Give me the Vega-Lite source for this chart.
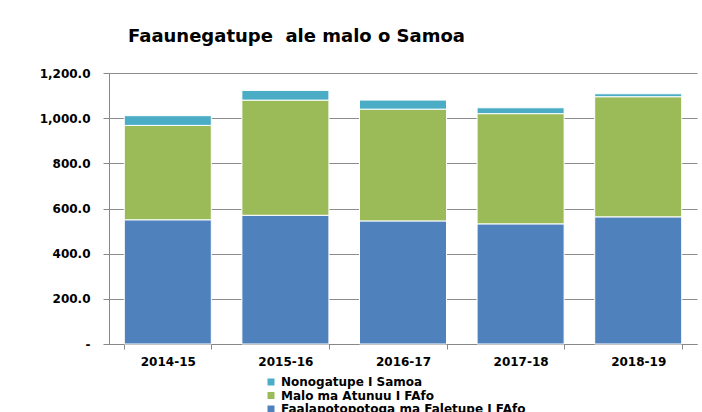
{
  "$schema": "https://vega.github.io/schema/vega-lite/v6.json",
  "width": 588,
  "height": 271,
  "autosize": {"type": "none"},
  "padding": {"left": 109, "top": 73, "right": 5, "bottom": 68},
  "background": "white",
  "title": {
    "text": "Faaunegatupe\u00a0 ale malo o Samoa",
    "anchor": "start",
    "frame": "group",
    "dx": 19,
    "offset": 7,
    "baseline": "alphabetic",
    "font": "DejaVu Sans",
    "fontSize": 18,
    "fontWeight": "bold",
    "color": "#000000"
  },
  "data": {
    "values": [
      {"year": "2014-15", "series": "Faalapotopotoga ma Faletupe I FAfo", "rank": 1, "value": 550},
      {"year": "2014-15", "series": "Malo ma Atunuu I FAfo", "rank": 2, "value": 418},
      {"year": "2014-15", "series": "Nonogatupe I Samoa", "rank": 3, "value": 43},
      {"year": "2015-16", "series": "Faalapotopotoga ma Faletupe I FAfo", "rank": 1, "value": 570},
      {"year": "2015-16", "series": "Malo ma Atunuu I FAfo", "rank": 2, "value": 510},
      {"year": "2015-16", "series": "Nonogatupe I Samoa", "rank": 3, "value": 43},
      {"year": "2016-17", "series": "Faalapotopotoga ma Faletupe I FAfo", "rank": 1, "value": 545},
      {"year": "2016-17", "series": "Malo ma Atunuu I FAfo", "rank": 2, "value": 495},
      {"year": "2016-17", "series": "Nonogatupe I Samoa", "rank": 3, "value": 40},
      {"year": "2017-18", "series": "Faalapotopotoga ma Faletupe I FAfo", "rank": 1, "value": 532},
      {"year": "2017-18", "series": "Malo ma Atunuu I FAfo", "rank": 2, "value": 488},
      {"year": "2017-18", "series": "Nonogatupe I Samoa", "rank": 3, "value": 26},
      {"year": "2018-19", "series": "Faalapotopotoga ma Faletupe I FAfo", "rank": 1, "value": 563},
      {"year": "2018-19", "series": "Malo ma Atunuu I FAfo", "rank": 2, "value": 532},
      {"year": "2018-19", "series": "Nonogatupe I Samoa", "rank": 3, "value": 13}
    ]
  },
  "mark": {"type": "bar", "stroke": "white", "strokeWidth": 1},
  "encoding": {
    "x": {
      "field": "year",
      "type": "nominal",
      "sort": null,
      "scale": {"paddingInner": 0.26, "paddingOuter": 0.13},
      "axis": {
        "title": null,
        "labelAngle": 0,
        "tickBand": "extent",
        "tickSize": 5,
        "tickColor": "#888888",
        "domainColor": "#888888",
        "labelPadding": 7,
        "labelFont": "DejaVu Sans",
        "labelFontSize": 12,
        "labelFontWeight": "bold",
        "labelColor": "#000000"
      }
    },
    "y": {
      "field": "value",
      "type": "quantitative",
      "stack": "zero",
      "scale": {"domain": [0, 1200], "nice": false},
      "axis": {
        "title": null,
        "values": [0, 200, 400, 600, 800, 1000, 1200],
        "labelExpr": "datum.value == 0 ? '-' : format(datum.value, ',.1f')",
        "grid": true,
        "gridColor": "#8c8c8c",
        "gridWidth": 1,
        "tickSize": 6,
        "tickColor": "#888888",
        "domainColor": "#888888",
        "labelPadding": 13,
        "labelFont": "DejaVu Sans",
        "labelFontSize": 12,
        "labelFontWeight": "bold",
        "labelColor": "#000000"
      }
    },
    "color": {
      "field": "series",
      "type": "nominal",
      "scale": {
        "domain": ["Nonogatupe I Samoa", "Malo ma Atunuu I FAfo", "Faalapotopotoga ma Faletupe I FAfo"],
        "range": ["#4BACC6", "#9BBB59", "#4F81BD"]
      },
      "legend": {
        "title": null,
        "orient": "none",
        "legendX": 156,
        "legendY": 303,
        "padding": 0,
        "symbolType": "square",
        "symbolSize": 49,
        "symbolStrokeWidth": 0,
        "labelOffset": 4,
        "rowPadding": 1.5,
        "labelFont": "DejaVu Sans",
        "labelFontSize": 12,
        "labelFontWeight": "bold",
        "labelColor": "#000000",
        "labelLimit": 400
      }
    },
    "order": {"field": "rank", "type": "quantitative"}
  },
  "config": {
    "view": {"stroke": null}
  }
}
